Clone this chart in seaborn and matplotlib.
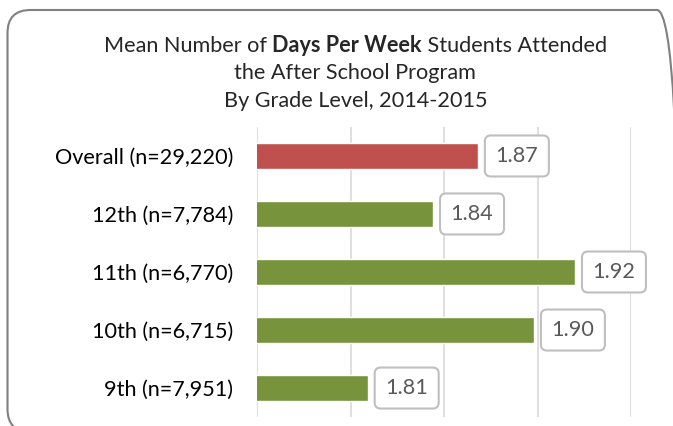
import numpy as np
import seaborn as sns
import matplotlib.pyplot as plt
from matplotlib.patches import FancyBboxPatch
from matplotlib.transforms import IdentityTransform

# data
groups = ["Overall (n=29,220)", "12th (n=7,784)", "11th (n=6,770)",
          "10th (n=6,715)", "9th (n=7,951)"]
days = [1.868, 1.844, 1.920, 1.898, 1.809]
bar_colors = ["#C0504D", "#77933C", "#77933C", "#77933C", "#77933C"]
x_ticks = [1.75, 1.80, 1.85, 1.90, 1.95]

sns.set_style("white")
plt.rcParams['font.family'] = ['Lato', 'DejaVu Sans']

fs = 15.6

fig = plt.figure(figsize=(6.73, 4.26), dpi=100)
ax = fig.add_axes([0.3826, 0.021, 0.555, 0.681])

sns.barplot(x=days, y=groups, hue=groups, palette=bar_colors, legend=False,
            width=0.46, orient='h', ax=ax, saturation=1)

ax.set_xlim(x_ticks[0], x_ticks[-1])
ax.set_ylim(4.5, -0.5)
ax.set_xticks(x_ticks)
ax.set_xticklabels([])
ax.xaxis.grid(True, color='#d9d9d9', lw=1.2)
ax.set_axisbelow(True)
ax.tick_params(axis='both', length=0)
ax.tick_params(axis='y', labelsize=fs, colors='black', pad=17.5)
ax.set_xlabel('')
ax.set_ylabel('')
sns.despine(ax=ax, left=True, bottom=True)

# value labels in rounded boxes (box 64x41 px, 7 px right of the bar end)
box_w, box_h, gap = 64, 41, 7
for i, v in enumerate(days):
    px, py = ax.transData.transform((v, i))
    box = FancyBboxPatch((px + gap, py - box_h / 2), box_w, box_h,
                         boxstyle='round,pad=0,rounding_size=6',
                         transform=IdentityTransform(), fc='white',
                         ec='#bfbfbf', lw=1.5, zorder=5)
    fig.patches.append(box)
    fig.text(px + gap + box_w / 2, py, f"{v:.2f}", transform=IdentityTransform(),
             ha='center', va='center', fontsize=fs, color='#595959', zorder=6)

# title, with the bold middle part on the first line
cx = 0.528
r = fig.canvas.get_renderer()
parts = [("Mean Number of ", 'normal'), ("Days Per Week", 'bold'),
         (" Students Attended", 'normal')]
texts = [fig.text(0, 0.878, p, fontsize=fs, fontweight=w, va='baseline', ha='left')
         for p, w in parts]
widths = [t.get_window_extent(r).width / fig.bbox.width for t in texts]
x0 = cx - sum(widths) / 2
for t, w in zip(texts, widths):
    t.set_x(x0)
    x0 += w
fig.text(cx, 0.8146, "the After School Program", fontsize=fs, ha='center', va='baseline')
fig.text(cx, 0.7488, "By Grade Level, 2014-2015", fontsize=fs, ha='center', va='baseline')

# outer rounded border (runs off the right and bottom edges)
border = FancyBboxPatch((0.075, -0.06), 6.725, 4.22,
                        boxstyle='round,pad=0,rounding_size=0.23',
                        transform=fig.dpi_scale_trans, fc='none', ec='#808080',
                        lw=1.5)
fig.patches.append(border)

plt.savefig("out.png", dpi=100)
